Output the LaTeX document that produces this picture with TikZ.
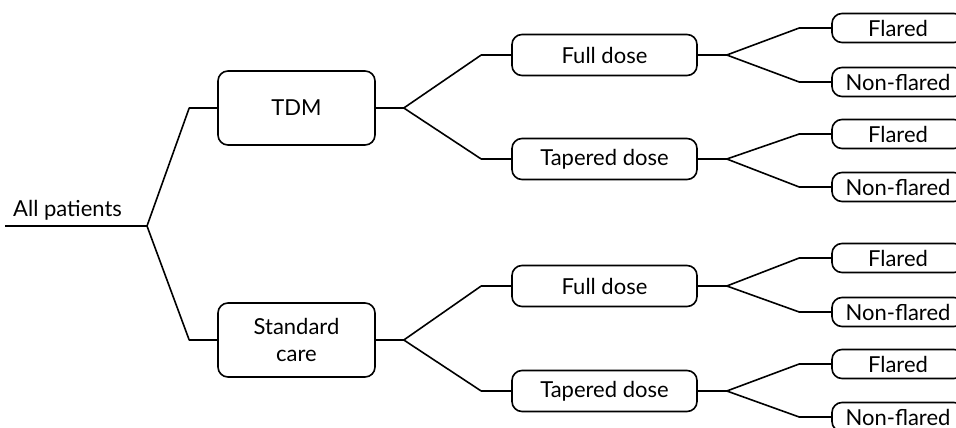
\documentclass[tikz,border=0pt]{standalone}
\usepackage{fontspec}
\setmainfont{Lato}
\tikzset{
  group/.style={
    draw,
    rounded corners=10pt,
    minimum width=157pt,
    minimum height=74pt,
    align=center,
    font=\fontsize{22}{27}\selectfont,
    line width=1.6pt
  },
  dosebox/.style={
    draw,
    rounded corners=10pt,
    minimum width=185pt,
    minimum height=41pt,
    align=center,
    font=\fontsize{22}{27}\selectfont,
    line width=1.6pt
  },
  outcome/.style={
    draw,
    rounded corners=10pt,
    minimum width=132pt,
    minimum height=29pt,
    inner sep=0pt,
    align=center,
    font=\fontsize{22}{27}\selectfont,
    line width=1.6pt
  },
  rootlabel/.style={
    anchor=base west,
    inner sep=0pt,
    font=\fontsize{22}{27}\selectfont
  },
  branch/.style={line width=1.6pt, line join=round}
}

\begin{document}
\begin{tikzpicture}[x=1pt, y=-1pt]
  \clip (0,0) rectangle (956,428);

  % root of the tree
  \coordinate (rootstart) at (5,226);
  \coordinate (split) at (147,226);
  \node[rootlabel] (all) at (13,216) {All patients};

  % treatment arms
  \node[group] (tdm) at (296.5,108) {TDM};
  \node[group] (care) at (296.5,340) {Standard\\care};

  % dosing
  \node[dosebox] (tdmfull) at (604.5,55) {Full dose};
  \node[dosebox] (tdmtaper) at (604.5,159) {Tapered dose};
  \node[dosebox] (carefull) at (604.5,286) {Full dose};
  \node[dosebox] (caretaper) at (604.5,391) {Tapered dose};

  % outcomes
  \node[outcome] (tf1) at (898,28) {Flared};
  \node[outcome] (tf2) at (898,82) {Non-flared};
  \node[outcome] (tt1) at (898,134) {Flared};
  \node[outcome] (tt2) at (898,187) {Non-flared};
  \node[outcome] (cf1) at (898,258) {Flared};
  \node[outcome] (cf2) at (898,312) {Non-flared};
  \node[outcome] (ct1) at (898,364) {Flared};
  \node[outcome] (ct2) at (898,417) {Non-flared};

  \draw[branch] (rootstart) -- (split);
  \draw[branch] (split) -- ([xshift=-28pt]tdm.west) -- (tdm.west);
  \draw[branch] (split) -- ([xshift=-28pt]care.west) -- (care.west);

  \draw[branch] (tdm.east) -- ++(28pt,0) coordinate (tdmfork);
  \draw[branch] (tdmfork) -- ([xshift=-30pt]tdmfull.west) -- (tdmfull.west);
  \draw[branch] (tdmfork) -- ([xshift=-30pt]tdmtaper.west) -- (tdmtaper.west);
  \draw[branch] (care.east) -- ++(28pt,0) coordinate (carefork);
  \draw[branch] (carefork) -- ([xshift=-30pt]carefull.west) -- (carefull.west);
  \draw[branch] (carefork) -- ([xshift=-30pt]caretaper.west) -- (caretaper.west);

  \draw[branch] (tdmfull.east) -- ++(29pt,0) coordinate (tfk);
  \draw[branch] (tfk) -- ([xshift=-32pt]tf1.west) -- (tf1.west);
  \draw[branch] (tfk) -- ([xshift=-32pt]tf2.west) -- (tf2.west);
  \draw[branch] (tdmtaper.east) -- ++(29pt,0) coordinate (ttk);
  \draw[branch] (ttk) -- ([xshift=-32pt]tt1.west) -- (tt1.west);
  \draw[branch] (ttk) -- ([xshift=-32pt]tt2.west) -- (tt2.west);
  \draw[branch] (carefull.east) -- ++(29pt,0) coordinate (cfk);
  \draw[branch] (cfk) -- ([xshift=-32pt]cf1.west) -- (cf1.west);
  \draw[branch] (cfk) -- ([xshift=-32pt]cf2.west) -- (cf2.west);
  \draw[branch] (caretaper.east) -- ++(29pt,0) coordinate (ctk);
  \draw[branch] (ctk) -- ([xshift=-32pt]ct1.west) -- (ct1.west);
  \draw[branch] (ctk) -- ([xshift=-32pt]ct2.west) -- (ct2.west);
\end{tikzpicture}
\end{document}
